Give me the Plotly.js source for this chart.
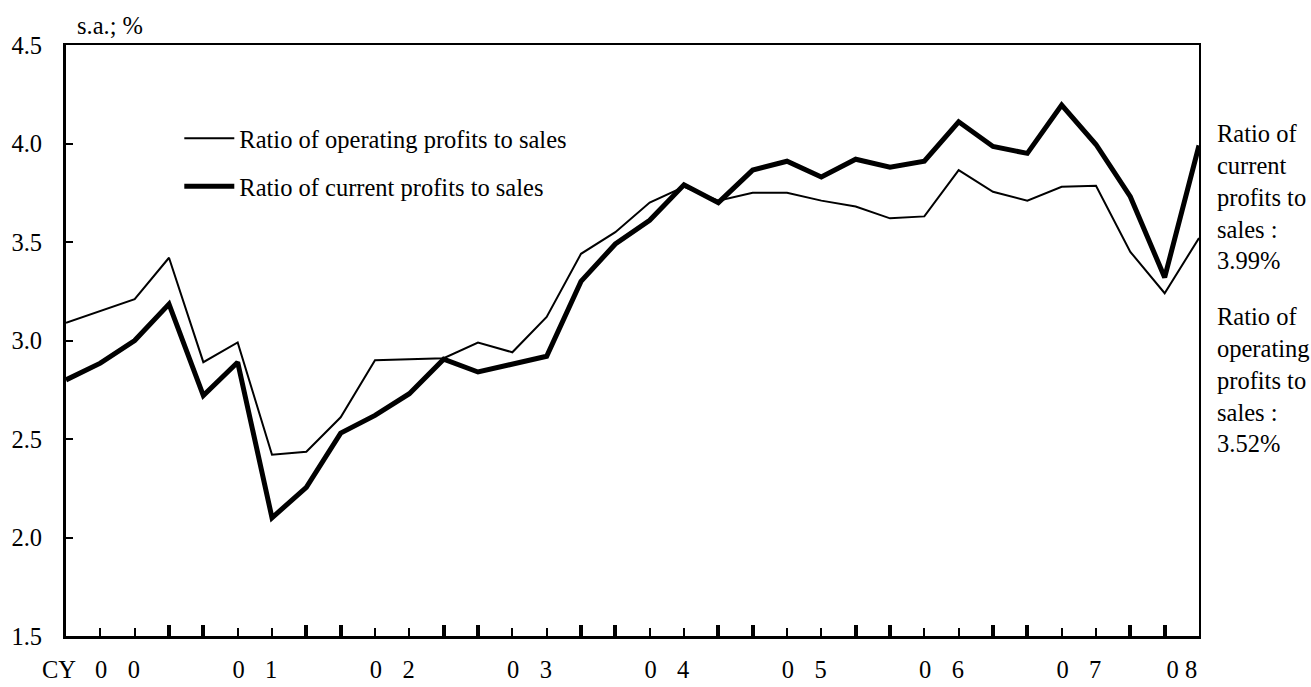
<!DOCTYPE html>
<html>
<head>
<meta charset="utf-8">
<script src="https://cdn.plot.ly/plotly-3.0.1.min.js"></script>
<style>
html,body{margin:0;padding:0;background:#fff;}
#chart{width:1311px;height:687px;}
</style>
</head>
<body>
<div id="chart"></div>
<script>
// ---- data ----
var quarters = [
  '2000Q1','2000Q2','2000Q3','2000Q4',
  '2001Q1','2001Q2','2001Q3','2001Q4',
  '2002Q1','2002Q2','2002Q3','2002Q4',
  '2003Q1','2003Q2','2003Q3','2003Q4',
  '2004Q1','2004Q2','2004Q3','2004Q4',
  '2005Q1','2005Q2','2005Q3','2005Q4',
  '2006Q1','2006Q2','2006Q3','2006Q4',
  '2007Q1','2007Q2','2007Q3','2007Q4',
  '2008Q1','2008Q2'
];
var operatingRatio = [3.09,3.15,3.21,3.42,2.89,2.99,2.42,2.435,2.61,2.90,2.905,2.91,2.99,2.94,3.12,3.44,3.55,3.70,3.78,3.71,3.75,3.75,3.71,3.68,3.62,3.63,3.865,3.755,3.71,3.78,3.785,3.45,3.24,3.52];
var currentRatio = [2.80,2.885,3.00,3.185,2.72,2.89,2.10,2.255,2.53,2.62,2.73,2.905,2.84,2.88,2.92,3.30,3.49,3.61,3.79,3.70,3.865,3.91,3.83,3.92,3.88,3.91,4.11,3.985,3.95,4.195,3.995,3.73,3.32,3.99];
var years = ['2000','2001','2002','2003','2004','2005','2006','2007','2008'];
var yearLabels = ['0\u00a0\u00a0\u00a0\u200a0','0\u00a0\u00a0\u00a0\u200a1','0\u00a0\u00a0\u00a0\u200a2','0\u00a0\u00a0\u00a0\u200a3','0\u00a0\u00a0\u00a0\u200a4','0\u00a0\u00a0\u00a0\u200a5','0\u00a0\u00a0\u00a0\u200a6','0\u00a0\u00a0\u00a0\u200a7','0\u00a08'];
var yTicks = [1.5,2.0,2.5,3.0,3.5,4.0,4.5];
var seriesNames = ['Ratio of operating profits to sales','Ratio of current profits to sales'];
var noteCurrent = 'Ratio of<br>current<br>profits to<br>sales :<br>3.99%';
var noteOperating = 'Ratio of<br>operating<br>profits to<br>sales :<br>3.52%';

// ---- derived ----
var xIdx = quarters.map(function(q,i){return i;});
var yearCenters = years.map(function(y){
  var idx = xIdx.filter(function(i){return quarters[i].slice(0,4)===y;});
  return idx.reduce(function(a,b){return a+b;},0)/idx.length;
});
var thickTicks = xIdx.filter(function(i){var q=quarters[i].slice(4);return q==='Q1'||q==='Q4';});
var thinTicks = xIdx.filter(function(i){return thickTicks.indexOf(i)<0;});

var FONT = '"Liberation Serif", "Times New Roman", serif';
var fs = 24.5;

var traces = [
  {x:xIdx, y:operatingRatio, type:'scatter', mode:'lines', name:seriesNames[0], legendgroup:'a',
   line:{color:'#000', width:2}},
  {x:xIdx, y:currentRatio, type:'scatter', mode:'lines', name:seriesNames[1], legendgroup:'b',
   line:{color:'#000', width:5}},
  {x:[0], y:[1.5], xaxis:'x2', yaxis:'y2', type:'scatter', mode:'none', showlegend:false, hoverinfo:'skip'},
  {x:[0], y:[1.5], xaxis:'x3', type:'scatter', mode:'none', showlegend:false, hoverinfo:'skip'}
];

var layout = {
  width:1311, height:687,
  margin:{l:66, r:112, t:45, b:51},
  paper_bgcolor:'#fff', plot_bgcolor:'#fff',
  font:{family:FONT, size:fs, color:'#000'},
  showlegend:true,
  legend:{x:0.1, y:0.88, xanchor:'left', yanchor:'top', bgcolor:'rgba(0,0,0,0)',
          font:{family:FONT, size:fs, color:'#000'}, tracegroupgap:13, itemwidth:50,
          traceorder:'grouped'},
  xaxis:{range:[0,33], showgrid:false, zeroline:false, showline:true, linewidth:2.5, linecolor:'#000', mirror:true,
         tickmode:'array', tickvals:thinTicks, ticks:'inside', ticklen:8, tickwidth:2, tickcolor:'#000',
         showticklabels:false, fixedrange:true},
  xaxis2:{range:[0,33], overlaying:'x', anchor:'y', side:'bottom', showgrid:false, zeroline:false, showline:false,
         tickmode:'array', tickvals:thickTicks, ticks:'inside', ticklen:11, tickwidth:4, tickcolor:'#000',
         showticklabels:false},
  xaxis3:{range:[0,33], overlaying:'x', anchor:'y', side:'bottom', showgrid:false, zeroline:false, showline:false,
         tickmode:'array', tickvals:yearCenters, ticktext:yearLabels, ticks:'', ticklabelstandoff:16,
         tickfont:{family:FONT, size:fs, color:'#000'}},
  yaxis:{range:[1.5,4.5], showgrid:false, zeroline:false, showline:true, linewidth:3, linecolor:'#000',
         tickmode:'array', tickvals:yTicks, tickformat:'.1f', ticks:'inside', ticklen:7, tickwidth:2, tickcolor:'#000',
         ticklabelstandoff:16, tickfont:{family:FONT, size:fs, color:'#000'}, fixedrange:true},
  yaxis2:{range:[1.5,4.5], overlaying:'y', side:'right', anchor:'x', showgrid:false, zeroline:false, showline:true,
         linewidth:2, linecolor:'#000', ticks:'', showticklabels:false},
  annotations:[
    {xref:'paper', yref:'paper', x:0.008, y:1, xanchor:'left', yanchor:'bottom', yshift:4, showarrow:false,
     text:'s.a.; %', font:{family:FONT, size:fs, color:'#000'}},
    {xref:'paper', yref:'paper', x:0.0105, y:0, xanchor:'right', yanchor:'top', yshift:-18, showarrow:false,
     text:'CY', font:{family:FONT, size:fs, color:'#000'}},
    {xref:'paper', yref:'paper', x:1, y:0.876, xanchor:'left', yanchor:'top', xshift:16, showarrow:false, align:'left',
     text:noteCurrent, font:{family:FONT, size:fs, color:'#000'}},
    {xref:'paper', yref:'paper', x:1, y:0.566, xanchor:'left', yanchor:'top', xshift:16, showarrow:false, align:'left',
     text:noteOperating, font:{family:FONT, size:fs, color:'#000'}}
  ]
};

Plotly.newPlot('chart', traces, layout, {staticPlot:true, displayModeBar:false});
</script>
</body>
</html>
